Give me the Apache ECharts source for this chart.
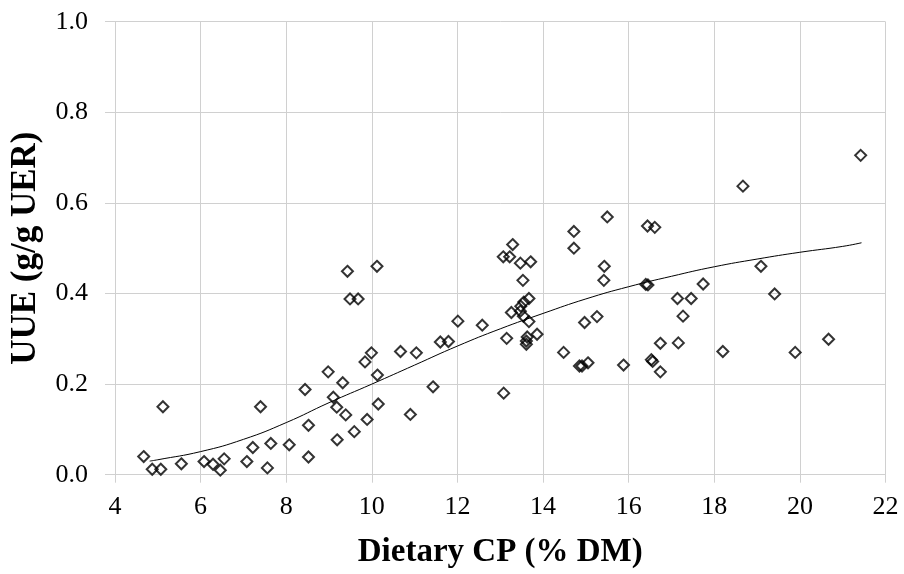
<!DOCTYPE html>
<html>
<head>
<meta charset="utf-8">
<script src="https://cdn.jsdelivr.net/npm/echarts@6/dist/echarts.min.js"></script>
<style>
html,body{margin:0;padding:0;background:#fff;}
#chart{width:904px;height:574px;}
</style>
</head>
<body>
<div id="chart"></div>
<script>
// Observed data: Dietary CP (% DM) vs UUE (g/g UER)
const cpValues = [
  4.67, 4.87, 5.07, 5.12, 5.55, 6.08, 6.29, 6.46, 6.55, 7.08, 7.22, 7.40, 7.56, 7.64, 8.07, 8.44, 8.52, 8.52,
  9.43, 10.12, 9.49, 9.68, 12.01, 12.58, 11.60, 11.79, 10.67, 11.04, 9.99, 9.84, 10.13, 8.98, 9.32, 11.43,
  9.10, 9.18, 9.39, 10.15, 10.90, 9.89, 9.59, 9.19,
  15.50, 14.72, 14.72, 16.44, 16.61, 15.43, 15.42, 16.40, 16.45, 17.74, 13.29, 13.07, 13.22, 13.47, 13.71,
  13.53, 13.67, 13.55, 13.48, 13.26, 13.47, 13.54, 13.67, 13.15, 13.63, 13.86, 13.61, 13.61, 17.14, 17.46,
  17.27, 15.26, 14.97, 16.74, 17.16, 14.48, 14.85, 14.91, 15.05, 15.88, 16.53, 16.56, 16.74, 13.08,
  21.42, 18.67, 19.09, 19.41, 18.20, 19.89, 20.67
];
const uueValues = [
  0.040, 0.012, 0.012, 0.150, 0.024, 0.029, 0.023, 0.010, 0.035, 0.029, 0.060, 0.150, 0.015, 0.069, 0.066, 0.188, 0.109, 0.039,
  0.449, 0.460, 0.388, 0.388, 0.339, 0.330, 0.293, 0.294, 0.272, 0.269, 0.269, 0.249, 0.220, 0.227, 0.203, 0.194,
  0.171, 0.149, 0.132, 0.156, 0.133, 0.122, 0.095, 0.077,
  0.569, 0.537, 0.500, 0.549, 0.546, 0.460, 0.429, 0.420, 0.419, 0.421, 0.508, 0.481, 0.481, 0.467, 0.470,
  0.429, 0.389, 0.381, 0.372, 0.358, 0.361, 0.350, 0.338, 0.301, 0.304, 0.310, 0.295, 0.288, 0.389, 0.389,
  0.350, 0.349, 0.336, 0.290, 0.291, 0.270, 0.240, 0.240, 0.247, 0.242, 0.254, 0.250, 0.227, 0.180,
  0.705, 0.637, 0.460, 0.399, 0.272, 0.270, 0.299
];
// Fitted curve
const curveX = [4.81, 5, 6, 7, 8, 9, 10, 11, 12, 13, 14, 15, 16, 17, 18, 19, 20, 21, 21.44];
const curveY = [0.030, 0.033, 0.051, 0.078, 0.115, 0.159, 0.200, 0.242, 0.284, 0.322, 0.356, 0.388, 0.415, 0.438, 0.459, 0.476, 0.491, 0.504, 0.512];
// Axis ticks
const xTicks = [4, 6, 8, 10, 12, 14, 16, 18, 20, 22];
const yTicks = [0.0, 0.2, 0.4, 0.6, 0.8, 1.0];
const xTitle = 'Dietary CP (% DM)';
const yTitle = 'UUE (g/g UER)';

const scatterData = cpValues.map((x, i) => [x, uueValues[i]]);
const curveData = curveX.map((x, i) => [x, curveY[i]]);

const chart = echarts.init(document.getElementById('chart'), null, {renderer: 'canvas'});
const serif = '"Liberation Serif", "Times New Roman", serif';
const gridColor = '#d0d0d0';
chart.setOption({
  animation: false,
  backgroundColor: '#ffffff',
  grid: {left: 111.7, right: 18.5, top: 21.7, bottom: 99.3, containLabel: false},
  xAxis: {
    type: 'value',
    min: xTicks[0], max: xTicks[xTicks.length - 1], interval: 2,
    name: xTitle, nameLocation: 'middle', nameGap: 61,
    nameTextStyle: {fontFamily: serif, fontSize: 33, fontWeight: 'bold', color: '#000'},
    axisLine: {show: true, lineStyle: {color: gridColor, width: 1}},
    axisTick: {show: true, inside: false, length: 8, lineStyle: {color: gridColor}},
    axisLabel: {fontFamily: serif, fontSize: 26, color: '#000', margin: 19},
    splitLine: {show: true, lineStyle: {color: gridColor, width: 1}}
  },
  yAxis: {
    type: 'value',
    min: yTicks[0], max: yTicks[yTicks.length - 1], interval: 0.2,
    name: yTitle, nameLocation: 'middle', nameGap: 72, nameRotate: 90,
    nameTextStyle: {fontFamily: serif, fontSize: 35, fontWeight: 'bold', color: '#000'},
    axisLine: {show: true, lineStyle: {color: gridColor, width: 1}},
    axisTick: {show: true, inside: false, length: 10, lineStyle: {color: gridColor}},
    axisLabel: {fontFamily: serif, fontSize: 26, color: '#000', margin: 27,
      formatter: v => v.toFixed(1)},
    splitLine: {show: true, lineStyle: {color: gridColor, width: 1}}
  },
  series: [
    {
      type: 'scatter',
      data: scatterData,
      symbol: 'diamond',
      symbolSize: [11, 11],
      itemStyle: {color: 'rgba(255,255,255,0)', borderColor: '#000', borderWidth: 2},
      z: 3
    },
    {
      type: 'line',
      data: curveData,
      smooth: true,
      showSymbol: false,
      lineStyle: {color: '#000', width: 1},
      z: 2
    }
  ]
});
</script>
</body>
</html>
